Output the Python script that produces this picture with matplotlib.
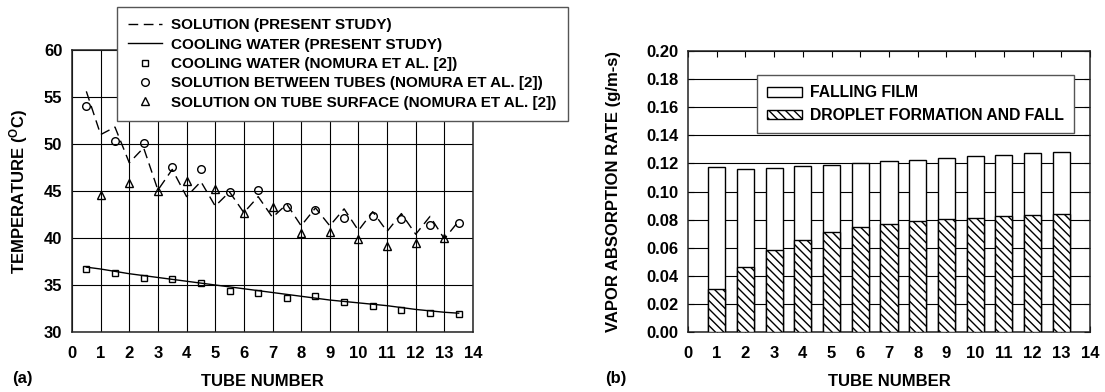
import matplotlib
matplotlib.use('Agg')
import matplotlib.pyplot as plt
import numpy as np

plt.rcParams['font.family'] = 'Liberation Sans'
plt.rcParams['font.weight'] = 'bold'
plt.rcParams['font.size'] = 12
plt.rcParams['hatch.linewidth'] = 1.0

# ---- (a) temperature along the tube bundle ----
sol_x = [0.5, 1, 1.5, 2, 2.5, 3, 3.5, 4, 4.5, 5, 5.5, 6, 6.5, 7, 7.5, 8, 8.5, 9, 9.5,
         10, 10.5, 11, 11.5, 12, 12.5, 13, 13.5]
sol_T = [55.6, 51.0, 51.8, 48.0, 49.6, 45.1, 47.3, 44.4, 46.0, 43.4, 44.9, 42.7, 44.4, 42.2,
         43.6, 41.3, 43.2, 41.3, 43.1, 40.8, 42.8, 40.7, 42.6, 40.4, 42.3, 39.9, 41.8]
cw_x = [0.5, 1, 2, 3, 4, 5, 6, 7, 8, 9, 10, 11, 12, 13, 13.5]
cw_T = [36.9, 36.7, 36.2, 35.8, 35.4, 35.0, 34.6, 34.2, 33.8, 33.4, 33.1, 32.8, 32.4, 32.1, 32.0]

half_x = [0.5, 1.5, 2.5, 3.5, 4.5, 5.5, 6.5, 7.5, 8.5, 9.5, 10.5, 11.5, 12.5, 13.5]
nom_cw = [36.7, 36.3, 35.7, 35.6, 35.2, 34.4, 34.1, 33.6, 33.8, 33.2, 32.8, 32.3, 32.0, 31.9]
nom_between = [54.0, 50.3, 50.1, 47.6, 47.3, 44.9, 45.1, 43.3, 43.0, 42.1, 42.3, 42.0, 41.4, 41.6]
tube_x = [1, 2, 3, 4, 5, 6, 7, 8, 9, 10, 11, 12, 13]
nom_surface = [44.6, 45.9, 45.0, 46.1, 45.2, 42.7, 43.3, 40.5, 40.6, 39.9, 39.1, 39.5, 40.0]

# ---- (b) vapor absorption rate per tube ----
tubes = [1, 2, 3, 4, 5, 6, 7, 8, 9, 10, 11, 12, 13]
total_rate = [0.1174, 0.1162, 0.1167, 0.1181, 0.1190, 0.1205, 0.1217, 0.1226, 0.1238,
              0.1250, 0.1260, 0.1271, 0.1280]
droplet_rate = [0.0307, 0.0466, 0.0581, 0.0657, 0.0709, 0.0745, 0.0772, 0.0788, 0.0802,
                0.0814, 0.0824, 0.0833, 0.0843]

fig = plt.figure(figsize=(11.05, 3.92), dpi=100)
W, H = 1105, 392
ax1 = fig.add_axes([72 / W, 1 - 332 / H, 401 / W, 282 / H])
ax2 = fig.add_axes([688 / W, 1 - 332 / H, 402 / W, 281 / H])

# (a)
ax1.plot(sol_x, sol_T, color='black', lw=1.0, dashes=(7, 4), label='SOLUTION (PRESENT STUDY)')
ax1.plot(cw_x, cw_T, color='black', lw=1.0, label='COOLING WATER (PRESENT STUDY)')
ax1.plot(half_x, nom_cw, ls='none', marker='s', ms=5, mfc='none', mec='black', mew=1.0,
         label='COOLING WATER (NOMURA ET AL. [2])')
ax1.plot(half_x, nom_between, ls='none', marker='o', ms=5.5, mfc='none', mec='black', mew=1.0,
         label='SOLUTION BETWEEN TUBES (NOMURA ET AL. [2])')
ax1.plot(tube_x, nom_surface, ls='none', marker='^', ms=5.5, mfc='none', mec='black', mew=1.0,
         label='SOLUTION ON TUBE SURFACE (NOMURA ET AL. [2])')
ax1.set_xlim(0, 14)
ax1.set_ylim(30, 60)
ax1.set_xticks(range(0, 15))
ax1.set_yticks(range(30, 61, 5))
ax1.grid(True, color='black', lw=0.8)
ax1.set_axisbelow(True)

# (b)
ax2.bar(tubes, total_rate, width=0.6, color='white', edgecolor='black', lw=1.0,
        label='FALLING FILM', zorder=2)
ax2.bar(tubes, droplet_rate, width=0.6, color='white', edgecolor='black', lw=1.0,
        hatch='\\\\\\\\', label='DROPLET FORMATION AND FALL', zorder=3)
ax2.set_xlim(0, 14)
ax2.set_ylim(0, 0.20)
ax2.set_xticks(range(0, 15))
yt = np.arange(0, 0.201, 0.02)
ax2.set_yticks(yt)
ax2.set_yticklabels([f'{v:.2f}' for v in yt])
ax2.grid(True, axis='y', color='black', lw=0.8)
ax2.set_axisbelow(True)

for ax in (ax1, ax2):
    for s in ax.spines.values():
        s.set_linewidth(1.1)
        s.set_color('#222')
    ax.tick_params(direction='in', length=4, width=0.8, top=True, right=True, labelsize=12)
    ax.tick_params(axis='x', pad=10)
    ax.tick_params(axis='y', pad=7)
    for lab in ax.get_xticklabels() + ax.get_yticklabels():
        lab.set_fontweight('bold')
ax1.tick_params(length=0)

ax1.set_xlabel('TUBE NUMBER', fontsize=12, fontweight='bold')
ax1.xaxis.set_label_coords(0.474, -0.149)
ax1.set_ylabel('TEMPERATURE ($\\mathregular{^{O}}$C)', fontsize=12, fontweight='bold')
ax1.yaxis.set_label_coords(-0.105, 0.5)
ax2.set_xlabel('TUBE NUMBER', fontsize=12, fontweight='bold')
ax2.xaxis.set_label_coords(0.5, -0.149)
ax2.set_ylabel('VAPOR ABSORPTION RATE (g/m-s)', fontsize=12, fontweight='bold')
ax2.yaxis.set_label_coords(-0.167, 0.5)

leg1 = ax1.legend(loc='upper left', bbox_to_anchor=(117 / W, 1 - 7 / H),
                  bbox_transform=fig.transFigure, frameon=True, fancybox=False,
                  framealpha=1, edgecolor='#555', fontsize=11, handlelength=2.2,
                  labelspacing=0.35, borderpad=0.75, handletextpad=0.6, borderaxespad=0)
leg1.get_frame().set_linewidth(1.0)
leg2 = ax2.legend(loc='upper left', bbox_to_anchor=(757 / W, 1 - 75 / H),
                  bbox_transform=fig.transFigure, frameon=True, fancybox=False,
                  framealpha=1, edgecolor='#555', fontsize=11.3, handlelength=2.2,
                  handleheight=0.6, labelspacing=0.5, borderpad=0.65,
                  handletextpad=0.5, borderaxespad=0)
leg2.get_frame().set_linewidth(1.0)
for leg in (leg1, leg2):
    for t in leg.get_texts():
        t.set_fontweight('bold')

fig.text(12 / W, 1 - 378 / H, '(a)', fontsize=12, fontweight='bold', va='center', ha='left')
fig.text(605 / W, 1 - 378 / H, '(b)', fontsize=12, fontweight='bold', va='center', ha='left')

fig.savefig('out.png', dpi=100, facecolor='white')
